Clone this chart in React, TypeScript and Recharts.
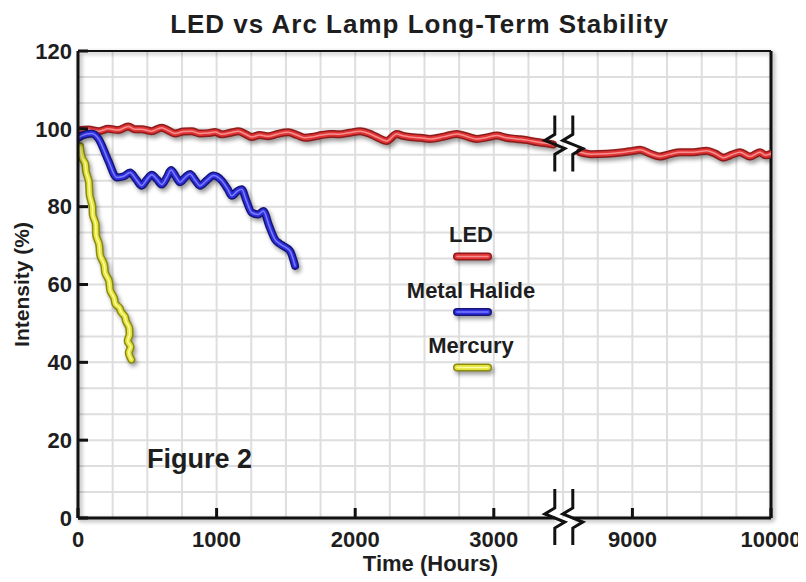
import React from 'react';
import { LineChart, Line, XAxis, YAxis, CartesianGrid, ReferenceLine, ReferenceDot, Legend } from 'recharts';

const FONT = '"Liberation Sans", Arial, Helvetica, sans-serif';

// the time axis is broken: hours past the break are drawn 5000 h to the left
const BREAK_START = 3500;
const BREAK_SKIP = 5000;
const BREAK_AT = 3505; // axis position of the break symbols
const BREAK_LEFT = 3440;
const BREAK_RIGHT = 3570;
const breakLevels = [0, 96];

const xTicks = [0, 1000, 2000, 3000, 4000, 5000];
const xTickLabels = ['0', '1000', '2000', '3000', '9000', '10000'];
const yTicks = [0, 20, 40, 60, 80, 100, 120];

const ledHours = [0, 74, 150, 218, 290, 363, 410, 459, 530, 603, 650, 699, 760, 820, 880, 940, 990, 1037, 1100, 1157, 1210, 1253, 1310, 1373, 1440, 1517, 1580, 1638, 1700, 1758, 1818, 1880, 1960, 2035, 2100, 2155, 2227, 2299, 2345, 2395, 2470, 2540, 2640, 2732, 2800, 2877, 2950, 3021, 3090, 3165, 3240, 3309, 3382, 3427];
const ledIntensity = [99.6, 99.8, 99.4, 100.0, 99.7, 100.6, 99.9, 99.9, 99.4, 100.3, 99.6, 98.8, 99.3, 99.4, 98.8, 98.9, 99.2, 98.6, 99.0, 99.4, 98.6, 97.9, 98.4, 98.1, 98.7, 99.1, 98.4, 97.7, 98.0, 98.4, 98.7, 98.6, 99.0, 99.4, 98.8, 97.9, 96.9, 98.7, 98.2, 97.9, 97.7, 97.4, 98.0, 98.7, 98.1, 97.4, 97.8, 98.3, 97.7, 97.4, 97.1, 96.6, 96.3, 96.0];

const ledLateHours = [8622, 8700, 8814, 8935, 9000, 9055, 9130, 9199, 9270, 9343, 9440, 9536, 9600, 9656, 9720, 9776, 9848, 9921, 9960, 10000];
const ledLateIntensity = [94.0, 93.5, 93.6, 94.0, 94.3, 94.6, 93.6, 92.9, 93.5, 94.0, 94.0, 94.4, 93.6, 92.6, 93.4, 94.0, 92.9, 94.0, 93.2, 93.6];

const halideHours = [0, 30, 100, 145, 219, 279, 330, 375, 420, 459, 495, 532, 570, 604, 640, 671, 705, 736, 775, 808, 845, 880, 930, 976, 1037, 1080, 1109, 1150, 1181, 1215, 1253, 1300, 1337, 1380, 1421, 1455, 1481, 1530, 1566];
const halideIntensity = [97.6, 98.3, 98.8, 97.6, 91.8, 87.5, 87.8, 88.8, 87.0, 85.4, 86.9, 88.2, 87.0, 85.7, 87.5, 89.4, 87.8, 86.3, 87.6, 88.4, 86.8, 85.4, 86.8, 88.0, 86.7, 84.5, 82.8, 84.0, 84.5, 81.5, 78.5, 78.0, 78.9, 75.0, 71.6, 70.5, 69.9, 68.6, 64.8];

const mercuryHours = [15, 30, 52, 58, 78, 84, 104, 106, 128, 130, 152, 160, 188, 196, 224, 232, 260, 270, 300, 310, 338, 346, 370, 372, 358, 380, 366, 385];
const mercuryIntensity = [95.5, 92.5, 91.0, 89.0, 86.5, 83.0, 80.0, 78.0, 75.5, 72.8, 70.4, 67.5, 65.2, 63.0, 60.9, 58.5, 56.6, 55.0, 54.0, 53.0, 51.8, 50.6, 48.8, 47.2, 45.5, 44.0, 42.5, 40.7];

const gridHours = Array.from({ length: 19 }, (_, i) => (i + 1) * 250);
const gridIntensity = Array.from({ length: 17 }, (_, i) => ((i + 1) * 20) / 3);

const toAxis = (h: number) => (h > BREAK_START ? h - BREAK_SKIP : h);
const rows = (hours: number[], values: number[]) => hours.map((h, i) => ({ t: toAxis(h), v: values[i] }));

const RED = { edge: '#8e1b1b', fill: '#e23434', shine: '#f59090' };
const BLUE = { edge: '#15157a', fill: '#2f2fe0', shine: '#7c7cff' };
const YELLOW = { edge: '#8a8a12', fill: '#e4e43a', shine: '#fbfba4' };

// mercury falls steeply, so it is smoothed along y instead of x
const series = [
  { key: 'led', data: rows(ledHours, ledIntensity), curve: 'monotoneX', ...RED },
  { key: 'ledLate', data: rows(ledLateHours, ledLateIntensity), curve: 'monotoneX', ...RED },
  { key: 'mercury', data: rows(mercuryHours, mercuryIntensity), curve: 'monotoneY', ...YELLOW },
  { key: 'halide', data: rows(halideHours, halideIntensity), curve: 'monotoneX', ...BLUE },
];

const legendItems = [
  { name: 'LED', ...RED },
  { name: 'Metal Halide', ...BLUE },
  { name: 'Mercury', ...YELLOW },
];

const BreakMark = (props: any) => {
  const { cx, cy } = props;
  if (cx == null || cy == null) return null;
  const zig = (x: number) => `M${x},${cy - 29} V${cy - 10} L${x - 10},${cy - 4} L${x + 10},${cy + 4} L${x},${cy + 10} V${cy + 27}`;
  return (
    <g>
      <path d={zig(cx - 9)} stroke="#111" strokeWidth={3} fill="none" strokeLinejoin="miter" />
      <path d={zig(cx + 9)} stroke="#111" strokeWidth={3} fill="none" strokeLinejoin="miter" />
    </g>
  );
};

const LegendBox = () => (
  <svg width={200} height={170}>
    {legendItems.map((item, i) => {
      const base = 24 + i * 55.5;
      const sy = base + 14.5;
      return (
        <g key={item.name}>
          <text x={100} y={base} textAnchor="middle" fontFamily={FONT} fontWeight={700} fontSize={22} fill="#1e1e1e">
            {item.name}
          </text>
          <g className="lamp-edge">
            <line x1={86} x2={117} y1={sy} y2={sy} stroke={item.edge} strokeWidth={8} strokeLinecap="round" />
          </g>
          <line x1={86} x2={117} y1={sy} y2={sy} stroke={item.fill} strokeWidth={5} strokeLinecap="round" />
          <line x1={86} x2={117} y1={sy} y2={sy} stroke={item.shine} strokeWidth={1.5} strokeLinecap="round" />
        </g>
      );
    })}
  </svg>
);

const tickStyle = { fill: '#1e1e1e', fontSize: 22, fontWeight: 700, fontFamily: FONT };

export default function App() {
  return (
    <div style={{ position: 'relative', width: 798, height: 570, fontFamily: FONT }}>
      <style>{`
        .lamp-edge .recharts-line-curve, .lamp-edge line { filter: drop-shadow(2px 3px 2px rgba(0,0,0,0.4)); }
        .frame-shadow { filter: drop-shadow(2px 2px 2px rgba(0,0,0,0.35)); }
        .recharts-cartesian-axis-line { filter: drop-shadow(2px 2px 2px rgba(0,0,0,0.35)); }
      `}</style>
      <LineChart width={798} height={570} margin={{ top: 43, right: 35, bottom: 0, left: 0 }}>
        <CartesianGrid
          stroke="#dedede"
          strokeWidth={2}
          horizontalCoordinatesGenerator={({ yAxis, offset }: any) =>
            gridIntensity.map((v) => (typeof yAxis?.scale === 'function' ? yAxis.scale(v) : offset.top + offset.height * (1 - v / 120)))
          }
          verticalCoordinatesGenerator={({ xAxis, offset }: any) =>
            gridHours.map((v) => (typeof xAxis?.scale === 'function' ? xAxis.scale(v) : offset.left + (offset.width * v) / 5000))
          }
        />
        <XAxis
          dataKey="t"
          type="number"
          domain={[0, 5000]}
          ticks={xTicks}
          interval={0}
          allowDataOverflow
          tickFormatter={(v: number) => xTickLabels[xTicks.indexOf(v)]}
          height={60}
          tickSize={-10}
          tickMargin={23}
          axisLine={false}
          tickLine={{ stroke: '#111', strokeWidth: 3 }}
          tick={tickStyle}
          label={{ value: 'Time (Hours)', position: 'insideBottom', offset: 7, dx: 6, fill: '#1e1e1e', fontSize: 22, fontWeight: 700, fontFamily: FONT }}
        />
        <YAxis
          type="number"
          domain={[0, 120]}
          ticks={yTicks}
          interval={0}
          width={70}
          tickSize={-10}
          tickMargin={16}
          axisLine={{ stroke: '#111', strokeWidth: 3 }}
          tickLine={{ stroke: '#111', strokeWidth: 3 }}
          tick={tickStyle}
          label={{ value: 'Intensity (%)', angle: -90, position: 'insideLeft', offset: 14, style: { textAnchor: 'middle' }, fill: '#1e1e1e', fontSize: 21, fontWeight: 700, fontFamily: FONT }}
        />
        <ReferenceLine y={120} stroke="#111" strokeWidth={2} className="frame-shadow" />
        <ReferenceLine x={5000} stroke="#111" strokeWidth={3} className="frame-shadow" />
        <ReferenceLine segment={[{ x: 0, y: 0 }, { x: BREAK_LEFT, y: 0 }]} stroke="#111" strokeWidth={3} className="frame-shadow" />
        <ReferenceLine segment={[{ x: BREAK_RIGHT, y: 0 }, { x: 5000, y: 0 }]} stroke="#111" strokeWidth={3} className="frame-shadow" />
        {series.flatMap((s) => [
          <Line key={`${s.key}-edge`} className="lamp-edge" data={s.data} dataKey="v" type={s.curve as any} stroke={s.edge} strokeWidth={8} strokeLinecap="round" strokeLinejoin="round" dot={false} activeDot={false} legendType="none" isAnimationActive={false} />,
          <Line key={`${s.key}-fill`} data={s.data} dataKey="v" type={s.curve as any} stroke={s.fill} strokeWidth={5} strokeLinecap="round" strokeLinejoin="round" dot={false} activeDot={false} legendType="none" isAnimationActive={false} />,
          <Line key={`${s.key}-shine`} data={s.data} dataKey="v" type={s.curve as any} stroke={s.shine} strokeWidth={1.5} strokeLinecap="round" strokeLinejoin="round" dot={false} activeDot={false} legendType="none" isAnimationActive={false} />,
        ])}
        {breakLevels.map((y) => (
          <ReferenceDot key={`break-${y}`} x={BREAK_AT} y={y} r={1} shape={(p: any) => <BreakMark {...p} />} />
        ))}
        <Legend layout="horizontal" verticalAlign="middle" align="center" wrapperStyle={{ left: 362.8, top: 210, width: 200, height: 170 }} content={() => <LegendBox />} />
      </LineChart>
      <div style={{ position: 'absolute', left: 111.5, top: 3, width: 600, textAlign: 'center', fontSize: 26, lineHeight: '26px', fontWeight: 700, letterSpacing: 1, color: '#1e1e1e' }}>
        LED vs Arc Lamp Long-Term Stability
      </div>
      <div style={{ position: 'absolute', left: 139, top: 438, fontSize: 27, lineHeight: '27px', fontWeight: 700, color: '#1e1e1e' }}>
        Figure 2
      </div>
    </div>
  );
}
